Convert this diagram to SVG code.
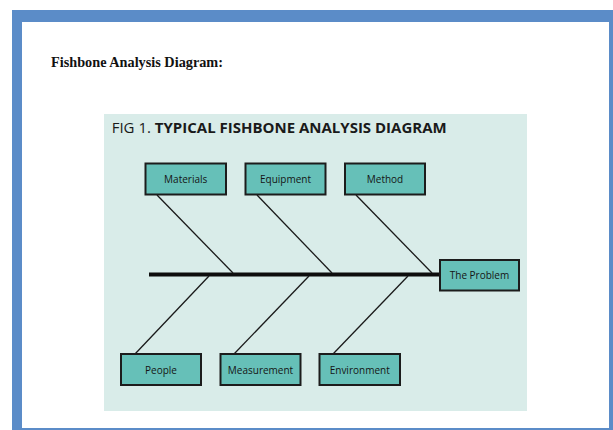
<svg xmlns="http://www.w3.org/2000/svg" width="613" height="430" viewBox="0 0 613 430">
<style>
.box{fill:#66c0b8;stroke:#1c1c1c;stroke-width:2}
.lbl{font-family:"Open Sans","Noto Sans",sans-serif;font-size:10px;font-weight:500;fill:#151515;text-anchor:middle}
.bone{stroke:#1a1a1a;stroke-width:1.3;fill:none}
</style>
<rect x="12" y="10" width="601" height="420" fill="#5b8cc8"/>
<rect x="22" y="22" width="587" height="406" fill="#ffffff"/>
<text x="51" y="67.3" font-family="Liberation Serif,serif" font-weight="bold" font-size="15" fill="#111" textLength="172" lengthAdjust="spacingAndGlyphs">Fishbone Analysis Diagram:</text>
<rect x="104" y="114" width="423" height="297" fill="#d9ece9"/>
<text x="111.7" y="132.7" font-family="Open Sans,Noto Sans,sans-serif" font-size="15" fill="#1a1a1a" textLength="335" lengthAdjust="spacingAndGlyphs"><tspan font-weight="normal">FIG 1. </tspan><tspan font-weight="bold">TYPICAL FISHBONE ANALYSIS DIAGRAM</tspan></text>
<g id="connectors">
<line x1="149" y1="274.5" x2="441" y2="274.5" stroke="#0d0d0d" stroke-width="4"/>
<line class="bone" x1="157" y1="195" x2="233" y2="273"/>
<line class="bone" x1="257" y1="195" x2="332" y2="273"/>
<line class="bone" x1="356" y1="195" x2="432" y2="273"/>
<line class="bone" x1="135" y1="354" x2="209" y2="276"/>
<line class="bone" x1="234" y1="354" x2="309" y2="276"/>
<line class="bone" x1="333" y1="354" x2="408" y2="276"/>
</g>
<g id="materials"><rect class="box" x="145.5" y="163.5" width="80.5" height="31"/><text class="lbl" x="185.7" y="183">Materials</text></g>
<g id="equipment"><rect class="box" x="245.5" y="163.5" width="80" height="31"/><text class="lbl" x="285.5" y="183">Equipment</text></g>
<g id="method"><rect class="box" x="345" y="163.5" width="80" height="31"/><text class="lbl" x="385" y="183">Method</text></g>
<g id="problem"><rect class="box" x="440" y="260" width="79" height="30.5"/><text class="lbl" x="479.5" y="279.3">The Problem</text></g>
<g id="people"><rect class="box" x="121" y="354" width="80" height="31"/><text class="lbl" x="161" y="373.5">People</text></g>
<g id="measurement"><rect class="box" x="220.5" y="354" width="80" height="31"/><text class="lbl" x="260.5" y="373.5">Measurement</text></g>
<g id="environment"><rect class="box" x="319.5" y="354" width="80.5" height="31"/><text class="lbl" x="359.7" y="373.5">Environment</text></g>
</svg>
